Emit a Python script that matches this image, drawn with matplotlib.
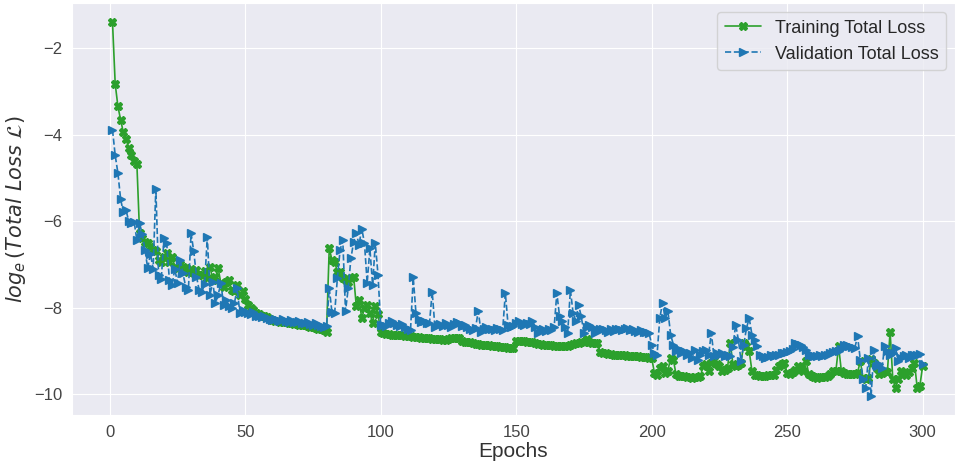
import numpy as np
import matplotlib
matplotlib.use('Agg')
import matplotlib.pyplot as plt
import seaborn as sns

## Training / validation total loss (log_e) per epoch ##

epochs = np.arange(1, 301)

train_loss = [
    -1.40, -2.83, -3.35, -3.66, -3.95, -4.11, -4.30, -4.47, -4.61, -4.68,   # 1-10
    -6.28, -6.40, -6.48, -6.51, -6.59, -6.67, -6.70, -6.90, -6.94, -6.82,   # 11-20
    -6.74, -6.95, -6.82, -7.05, -7.09, -6.98, -7.05, -7.09, -7.17, -7.10,   # 21-30
    -7.20, -7.13, -7.24, -7.25, -7.15, -7.32, -7.05, -7.36, -7.30, -7.09,   # 31-40
    -7.43, -7.51, -7.40, -7.36, -7.59, -7.61, -7.47, -7.70, -7.62, -7.80,   # 41-50
    -7.93, -8.00, -8.05, -8.12, -8.15, -8.18, -8.20, -8.22, -8.25, -8.28,   # 51-60
    -8.30, -8.31, -8.32, -8.33, -8.34, -8.35, -8.36, -8.37, -8.38, -8.39,   # 61-70
    -8.40, -8.41, -8.43, -8.44, -8.45, -8.47, -8.48, -8.50, -8.52, -8.55,   # 71-80
    -6.62, -6.90, -6.94, -7.17, -7.17, -7.32, -7.36, -7.40, -7.32, -7.28,   # 81-90
    -7.97, -7.82, -8.24, -8.01, -7.93, -8.12, -8.35, -7.97, -8.15, -8.55,   # 91-100
    -8.58, -8.60, -8.61, -8.62, -8.62, -8.63, -8.64, -8.64, -8.65, -8.66,   # 101-110
    -8.66, -8.67, -8.68, -8.68, -8.69, -8.70, -8.70, -8.71, -8.72, -8.72,   # 111-120
    -8.73, -8.73, -8.74, -8.74, -8.72, -8.71, -8.70, -8.70, -8.71, -8.76,   # 121-130
    -8.78, -8.79, -8.80, -8.82, -8.83, -8.84, -8.85, -8.86, -8.86, -8.87,   # 131-140
    -8.88, -8.89, -8.89, -8.90, -8.91, -8.91, -8.92, -8.93, -8.93, -8.76,   # 141-150
    -8.76, -8.77, -8.77, -8.78, -8.78, -8.80, -8.82, -8.83, -8.84, -8.85,   # 151-160
    -8.85, -8.86, -8.87, -8.88, -8.88, -8.89, -8.89, -8.89, -8.88, -8.86,   # 161-170
    -8.84, -8.82, -8.81, -8.80, -8.78, -8.72, -8.80, -8.81, -8.81, -8.82,   # 171-180
    -9.02, -9.04, -9.05, -9.06, -9.07, -9.08, -9.09, -9.09, -9.10, -9.10,   # 181-190
    -9.11, -9.11, -9.12, -9.12, -9.12, -9.13, -9.13, -9.14, -9.15, -9.16,   # 191-200
    -9.50, -9.55, -9.39, -9.35, -9.50, -9.45, -9.16, -9.20, -9.54, -9.58,   # 201-210
    -9.57, -9.58, -9.59, -9.60, -9.62, -9.60, -9.59, -9.58, -9.35, -9.31,   # 211-220
    -9.46, -9.27, -9.20, -9.30, -9.35, -9.46, -9.43, -9.40, -8.81, -9.31,   # 221-230
    -9.35, -9.33, -9.27, -8.81, -8.89, -9.00, -9.46, -9.55, -9.56, -9.57,   # 231-240
    -9.58, -9.57, -9.56, -9.55, -9.55, -9.43, -9.35, -9.30, -9.27, -9.50,   # 241-250
    -9.54, -9.48, -9.43, -9.35, -9.40, -9.46, -9.23, -9.54, -9.58, -9.60,   # 251-260
    -9.62, -9.61, -9.60, -9.59, -9.58, -9.52, -9.46, -9.45, -8.89, -9.46,   # 261-270
    -9.50, -9.52, -9.54, -9.53, -9.52, -9.50, -9.23, -9.62, -9.65, -9.63,   # 271-280
    -9.19, -9.27, -9.40, -9.54, -9.50, -9.46, -9.48, -8.55, -9.65, -9.85,   # 281-290
    -9.65, -9.46, -9.50, -9.55, -9.48, -9.40, -9.27, -9.85, -9.80, -9.35,   # 291-300
]

val_loss = [
    -3.89, -4.48, -4.89, -5.49, -5.80, -5.75, -6.00, -6.05, -6.02, -6.44,   # 1-10
    -6.05, -6.30, -6.67, -7.09, -6.75, -7.10, -5.25, -7.24, -7.34, -6.40,   # 11-20
    -6.51, -7.36, -7.47, -7.10, -7.43, -6.90, -7.20, -7.51, -7.60, -6.28,   # 21-30
    -6.70, -7.28, -7.59, -7.63, -7.45, -6.36, -7.70, -7.40, -7.89, -7.70,   # 31-40
    -7.43, -7.93, -7.82, -7.95, -8.00, -7.90, -7.55, -8.12, -8.05, -8.10,   # 41-50
    -8.12, -8.15, -8.10, -8.18, -8.20, -8.22, -8.18, -8.24, -8.26, -8.28,   # 51-60
    -8.25, -8.29, -8.30, -8.27, -8.30, -8.32, -8.28, -8.33, -8.34, -8.30,   # 61-70
    -8.35, -8.36, -8.33, -8.38, -8.39, -8.36, -8.40, -8.42, -8.44, -8.43,   # 71-80
    -7.55, -8.10, -8.12, -7.32, -6.67, -6.44, -8.08, -7.55, -6.86, -6.48,   # 81-90
    -6.28, -6.55, -6.17, -6.51, -7.43, -6.63, -7.47, -6.51, -7.24, -8.39,   # 91-100
    -8.40, -8.43, -8.35, -8.31, -8.36, -8.40, -8.42, -8.38, -8.44, -8.48,   # 101-110
    -8.51, -7.30, -8.12, -8.27, -8.33, -8.30, -8.36, -8.35, -7.63, -8.45,   # 111-120
    -8.40, -8.38, -8.42, -8.36, -8.40, -8.44, -8.38, -8.33, -8.35, -8.42,   # 121-130
    -8.40, -8.45, -8.48, -8.51, -8.46, -8.08, -8.55, -8.50, -8.45, -8.48,   # 131-140
    -8.50, -8.51, -8.46, -8.50, -8.52, -7.66, -8.40, -8.45, -8.42, -8.36,   # 141-150
    -8.31, -8.37, -8.40, -8.35, -8.38, -8.31, -8.45, -8.58, -8.52, -8.48,   # 151-160
    -8.53, -8.50, -8.51, -8.45, -7.66, -8.20, -8.30, -8.45, -8.58, -7.59,   # 161-170
    -8.12, -8.30, -7.93, -8.20, -8.58, -8.45, -8.39, -8.45, -8.58, -8.52,   # 171-180
    -8.50, -8.48, -8.52, -8.55, -8.50, -8.53, -8.50, -8.48, -8.52, -8.50,   # 181-190
    -8.47, -8.51, -8.50, -8.53, -8.55, -8.52, -8.56, -8.55, -8.58, -8.85,   # 191-200
    -9.04, -9.08, -8.24, -7.89, -8.24, -8.08, -8.62, -8.85, -9.00, -8.95,   # 201-210
    -9.04, -9.00, -9.08, -9.05, -9.16, -8.97, -9.20, -9.10, -9.00, -8.97,   # 211-220
    -9.10, -8.58, -9.12, -9.04, -9.08, -9.05, -9.12, -9.10, -9.12, -8.90,   # 221-230
    -8.39, -8.74, -9.23, -8.85, -8.47, -8.24, -8.62, -8.74, -8.89, -9.08,   # 231-240
    -9.12, -9.16, -9.14, -9.10, -9.12, -9.10, -9.08, -9.05, -9.04, -9.02,   # 241-250
    -9.00, -8.95, -8.81, -8.83, -8.85, -8.90, -8.97, -9.08, -9.10, -9.12,   # 251-260
    -9.12, -9.10, -9.11, -9.09, -9.08, -9.05, -9.03, -9.00, -9.00, -8.95,   # 261-270
    -8.85, -8.87, -8.89, -8.90, -8.92, -8.66, -9.20, -9.65, -9.85, -9.16,   # 271-280
    -10.04, -8.97, -9.35, -9.30, -9.39, -8.89, -9.00, -9.08, -9.05, -8.93,  # 281-290
    -9.23, -9.15, -9.12, -9.08, -9.15, -9.08, -9.10, -9.08, -9.06, -9.31,   # 291-300
]

sns.set_style('darkgrid')
plt.rcParams['font.family'] = ['Liberation Sans', 'DejaVu Sans']
plt.rcParams['mathtext.fontset'] = 'dejavusans'

fig, ax = plt.subplots(figsize=(9.58, 4.65), dpi=100)
fig.subplots_adjust(left=0.075, right=0.997, top=0.993, bottom=0.108)

ax.plot(epochs, train_loss, color='#2ca02c', linestyle='-', marker='X',
        markersize=6, linewidth=1.2, label='Training Total Loss')
ax.plot(epochs, val_loss, color='#1f77b4', linestyle='--', marker='>',
        markersize=6, linewidth=1.2, label='Validation Total Loss')

ax.set_xlim(-14, 312)
ax.set_xlabel('Epochs', fontsize=15, color='#333333', labelpad=2)
ax.set_ylabel(r'$log_e\,(Total\ Loss\ \mathcal{L})$', fontsize=15, color='#333333')
ax.tick_params(axis='both', labelsize=12, colors='#444444')
ax.legend(loc='upper right', fontsize=13)

fig.savefig('out.png')
